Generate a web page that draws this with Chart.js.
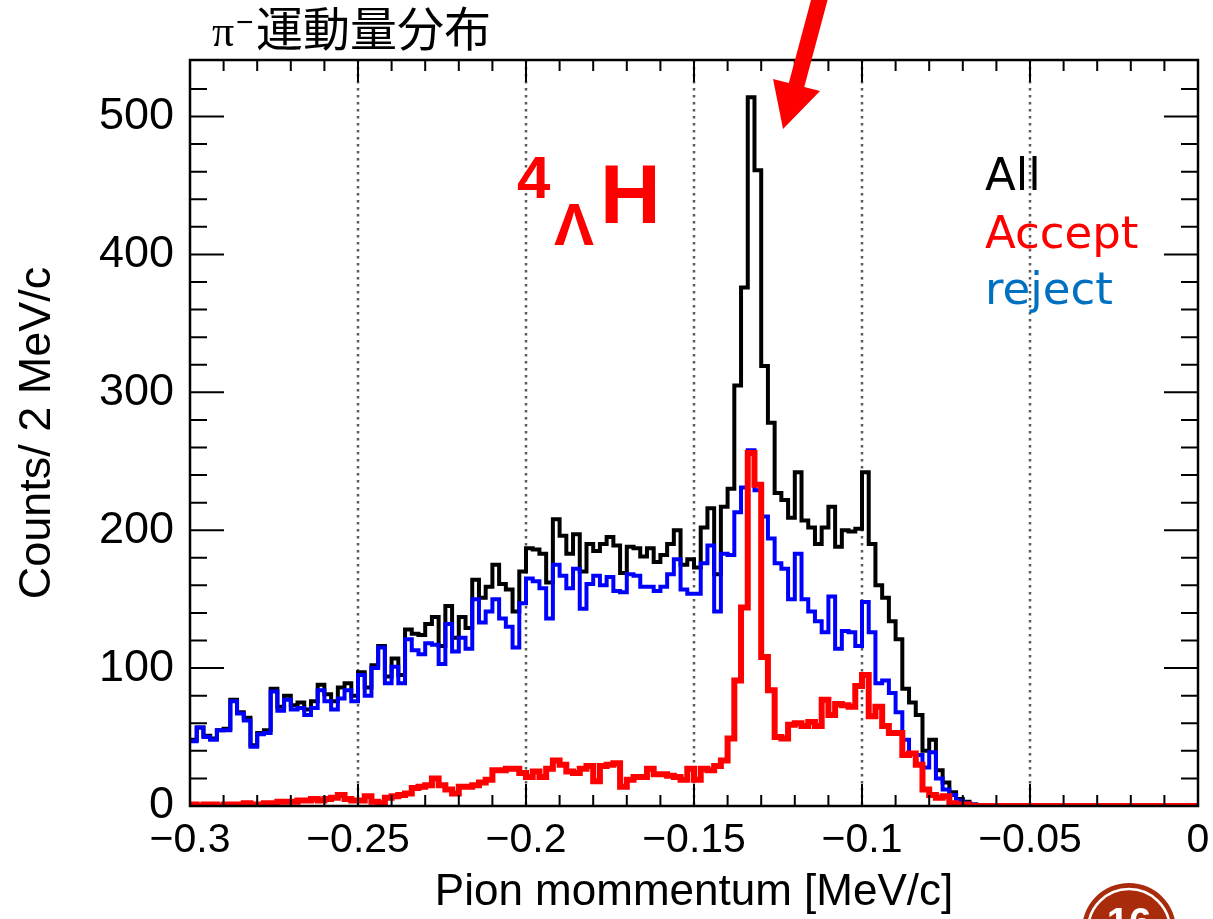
<!DOCTYPE html>
<html lang="ja">
<head>
<meta charset="utf-8">
<title>π⁻運動量分布</title>
<script src="https://cdn.jsdelivr.net/npm/chart.js@4.4.0/dist/chart.umd.min.js"></script>
<style>
  html, body { margin: 0; padding: 0; background: #fff; }
  canvas { display: block; }
</style>
</head>
<body>
<canvas id="momentumChart" width="1213" height="919"></canvas>
<script>
// Histogram bin edges (2 MeV/c bins) and counts per bin
const binEdges = [
  -0.300, -0.298, -0.296, -0.294, -0.292, -0.290, -0.288, -0.286, -0.284, -0.282,
  -0.280, -0.278, -0.276, -0.274, -0.272, -0.270, -0.268, -0.266, -0.264, -0.262,
  -0.260, -0.258, -0.256, -0.254, -0.252, -0.250, -0.248, -0.246, -0.244, -0.242,
  -0.240, -0.238, -0.236, -0.234, -0.232, -0.230, -0.228, -0.226, -0.224, -0.222,
  -0.220, -0.218, -0.216, -0.214, -0.212, -0.210, -0.208, -0.206, -0.204, -0.202,
  -0.200, -0.198, -0.196, -0.194, -0.192, -0.190, -0.188, -0.186, -0.184, -0.182,
  -0.180, -0.178, -0.176, -0.174, -0.172, -0.170, -0.168, -0.166, -0.164, -0.162,
  -0.160, -0.158, -0.156, -0.154, -0.152, -0.150, -0.148, -0.146, -0.144, -0.142,
  -0.140, -0.138, -0.136, -0.134, -0.132, -0.130, -0.128, -0.126, -0.124, -0.122,
  -0.120, -0.118, -0.116, -0.114, -0.112, -0.110, -0.108, -0.106, -0.104, -0.102,
  -0.100, -0.098, -0.096, -0.094, -0.092, -0.090, -0.088, -0.086, -0.084, -0.082,
  -0.080, -0.078, -0.076, -0.074, -0.072, -0.070, -0.068, -0.066, -0.064, -0.062,
  -0.060, -0.058, -0.056, -0.054, -0.052, -0.050, -0.048, -0.046, -0.044, -0.042,
  -0.040, -0.038, -0.036, -0.034, -0.032, -0.030, -0.028, -0.026, -0.024, -0.022,
  -0.020, -0.018, -0.016, -0.014, -0.012, -0.010, -0.008, -0.006, -0.004, -0.002,
  0.000
];

const allCounts = [
  48, 57, 51, 49, 55, 56, 77, 68, 64, 44,
  53, 55, 85, 72, 80, 73, 75, 70, 76, 88,
  81, 76, 86, 89, 80, 97, 86, 102, 116, 94,
  107, 95, 128, 125, 124, 132, 137, 116, 145, 122,
  137, 129, 164, 151, 159, 175, 161, 157, 141, 170,
  187, 186, 183, 162, 208, 196, 183, 197, 170, 190,
  185, 190, 195, 189, 169, 188, 187, 181, 187, 177,
  182, 190, 200, 175, 179, 173, 202, 216, 168, 217,
  230, 305, 376, 514, 461, 319, 278, 227, 222, 209,
  242, 207, 202, 190, 202, 217, 188, 200, 199, 201,
  242, 190, 160, 151, 134, 121, 85, 75, 66, 40,
  48, 26, 17, 10, 5, 3, 1, 0, 0, 0,
  0, 0, 0, 0, 0, 0, 0, 0, 0, 0,
  0, 0, 0, 0, 0, 0, 0, 0, 0, 0,
  0, 0, 0, 0, 0, 0, 0, 0, 0, 0
];

const acceptCounts = [
  1, 0, 1, 1, 0, 1, 1, 1, 2, 1,
  1, 2, 2, 3, 3, 3, 4, 4, 5, 4,
  5, 6, 8, 5, 4, 4, 7, 3, 2, 6,
  7, 8, 9, 13, 14, 15, 20, 15, 12, 9,
  14, 14, 15, 17, 19, 26, 26, 27, 27, 24,
  21, 25, 21, 27, 33, 30, 25, 24, 27, 29,
  18, 29, 30, 31, 14, 19, 21, 21, 27, 23,
  23, 22, 21, 19, 27, 19, 27, 26, 29, 33,
  49, 91, 144, 256, 233, 108, 84, 50, 49, 59,
  60, 58, 61, 58, 77, 66, 74, 73, 72, 87,
  95, 65, 72, 58, 53, 53, 37, 38, 30, 12,
  8, 6, 7, 2, 1, 1, 0, 0, 0, 0,
  0, 0, 0, 0, 0, 0, 0, 0, 0, 0,
  0, 0, 0, 0, 0, 0, 0, 0, 0, 0,
  0, 0, 0, 0, 0, 0, 0, 0, 0, 0
];

const rejectCounts = [
  47, 57, 50, 48, 55, 55, 76, 67, 62, 43,
  52, 53, 83, 69, 77, 70, 71, 66, 71, 84,
  76, 70, 78, 84, 76, 95, 80, 100, 115, 89,
  101, 89, 121, 113, 110, 118, 117, 103, 132, 112,
  122, 114, 150, 133, 141, 150, 136, 130, 115, 147,
  165, 163, 158, 136, 175, 167, 158, 172, 143, 161,
  167, 160, 166, 156, 155, 168, 167, 159, 159, 156,
  159, 168, 179, 157, 154, 154, 176, 189, 141, 183,
  182, 213, 231, 258, 229, 210, 194, 176, 172, 150,
  183, 150, 141, 134, 126, 152, 114, 127, 126, 116,
  148, 126, 89, 91, 82, 68, 48, 38, 37, 28,
  39, 20, 12, 8, 4, 2, 1, 0, 0, 0,
  0, 0, 0, 0, 0, 0, 0, 0, 0, 0,
  0, 0, 0, 0, 0, 0, 0, 0, 0, 0,
  0, 0, 0, 0, 0, 0, 0, 0, 0, 0
];

const xMajorTicks = [-0.3, -0.25, -0.2, -0.15, -0.1, -0.05, 0];
const xTickLabels = ["\u22120.3", "\u22120.25", "\u22120.2", "\u22120.15", "\u22120.1", "\u22120.05", "0"];
const yMajorTicks = [0, 100, 200, 300, 400, 500];
const yTickLabels = ["0", "100", "200", "300", "400", "500"];
const legendNames = ["All", "Accept", "reject"];

const ARIAL = "'Liberation Sans', Arial, sans-serif";

function toSteps(counts) {
  const pts = counts.map((c, i) => ({ x: binEdges[i], y: c }));
  pts.push({ x: binEdges[counts.length], y: counts[counts.length - 1] });
  return pts;
}

function majorIndex(list, v) {
  return list.findIndex((t) => Math.abs(t - v) < 1e-6);
}

// ROOT-like frame: dotted x grid, inward ticks on all four sides
const rootFrame = {
  id: "rootFrame",
  beforeDatasetsDraw(chart) {
    const { ctx, chartArea: a, scales } = chart;
    ctx.save();
    ctx.strokeStyle = "#5a5a5a";
    ctx.lineWidth = 2.5;
    ctx.setLineDash([2.5, 4.5]);
    xMajorTicks.forEach((v) => {
      const px = Math.round(scales.x.getPixelForValue(v));
      if (px <= a.left + 2 || px >= a.right - 2) return;
      ctx.beginPath();
      ctx.moveTo(px, a.top);
      ctx.lineTo(px, a.bottom);
      ctx.stroke();
    });
    ctx.restore();
  },
  afterDatasetsDraw(chart) {
    const { ctx, chartArea: a, scales } = chart;
    ctx.save();
    ctx.strokeStyle = "#000";
    ctx.lineWidth = 2;
    scales.x.ticks.forEach((t) => {
      const px = scales.x.getPixelForValue(t.value);
      const len = majorIndex(xMajorTicks, t.value) >= 0 ? 22 : 11;
      ctx.beginPath();
      ctx.moveTo(px, a.bottom);
      ctx.lineTo(px, a.bottom - len);
      ctx.moveTo(px, a.top);
      ctx.lineTo(px, a.top + len);
      ctx.stroke();
    });
    scales.y.ticks.forEach((t) => {
      if (t.value % 20 !== 0) return;
      const py = scales.y.getPixelForValue(t.value);
      const len = t.value % 100 === 0 ? 34 : 17;
      ctx.beginPath();
      ctx.moveTo(a.left, py);
      ctx.lineTo(a.left + len, py);
      ctx.moveTo(a.right, py);
      ctx.lineTo(a.right - len, py);
      ctx.stroke();
    });
    ctx.lineWidth = 2.5;
    ctx.strokeRect(a.left, a.top, a.right - a.left, a.bottom - a.top);
    ctx.restore();
  },
};

// title, legend words, 4ΛH label, arrow and slide badge
const slideText = {
  id: "slideText",
  afterDraw(chart) {
    const { ctx, scales } = chart;
    ctx.save();
    ctx.textBaseline = "alphabetic";
    ctx.textAlign = "left";

    ctx.fillStyle = "#000";
    ctx.font = "44px 'Liberation Serif', serif";
    ctx.fillText("π", 212, 46);
    ctx.font = "30px 'Liberation Sans', sans-serif";
    ctx.fillText("\u2212", 236, 32);
    ctx.font = "47px 'Noto Sans CJK JP', sans-serif";
    ctx.fillText("運動量分布", 256, 46);

    const legendColors = ["#000000", "#ff0000", "#0070c0"];
    const legendBase = [190, 248, 304];
    ctx.font = "45px 'DejaVu Sans', sans-serif";
    legendNames.forEach((name, i) => {
      ctx.fillStyle = legendColors[i];
      ctx.fillText(name, 985, legendBase[i]);
    });

    ctx.fillStyle = "#ff0000";
    ctx.font = "bold 60px " + ARIAL;
    ctx.fillText("4", 517, 198);
    ctx.fillText("Λ", 554, 245);
    ctx.font = "bold 84px " + ARIAL;
    ctx.fillText("H", 600, 223);

    // arrow pointing at the peak
    const tx = scales.x.getPixelForValue(-0.1235);
    const ty = scales.y.getPixelForValue(491);
    const ux = 0.2587, uy = -0.966, w = 8;
    const mx = tx + 13.5, my = ty - 44;
    ctx.beginPath();
    ctx.moveTo(tx, ty);
    ctx.lineTo(tx + 37, ty - 38);
    ctx.lineTo(mx + w * 0.966, my + w * 0.2587);
    ctx.lineTo(mx + w * 0.966 + ux * 200, my + w * 0.2587 + uy * 200);
    ctx.lineTo(mx - w * 0.966 + ux * 200, my - w * 0.2587 + uy * 200);
    ctx.lineTo(mx - w * 0.966, my - w * 0.2587);
    ctx.lineTo(tx - 10, ty - 50);
    ctx.closePath();
    ctx.fill();

    // page number badge, cut off at the bottom
    ctx.fillStyle = "#a82c0c";
    ctx.beginPath();
    ctx.arc(1129, 930, 47, 0, Math.PI * 2);
    ctx.fill();
    ctx.strokeStyle = "#ffffff";
    ctx.lineWidth = 2.5;
    ctx.beginPath();
    ctx.arc(1129, 930, 41, 0, Math.PI * 2);
    ctx.stroke();
    ctx.fillStyle = "#ffffff";
    ctx.font = "bold 40px " + ARIAL;
    ctx.textAlign = "center";
    ctx.fillText("16", 1129, 936);
    ctx.restore();
  },
};

function createChart(chartElementId) {
  const ctx = document.getElementById(chartElementId).getContext("2d");
  const lineStyle = { stepped: true, pointRadius: 0, fill: false, borderJoinStyle: "miter" };

  new Chart(ctx, {
    type: "line",
    data: {
      datasets: [
        { ...lineStyle, label: legendNames[1], data: toSteps(acceptCounts), borderColor: "#ff0000", borderWidth: 6, order: 0 },
        { ...lineStyle, label: legendNames[2], data: toSteps(rejectCounts), borderColor: "#0000ff", borderWidth: 4, order: 1 },
        { ...lineStyle, label: legendNames[0], data: toSteps(allCounts), borderColor: "#000000", borderWidth: 4, order: 2 },
      ],
    },
    options: {
      responsive: false,
      animation: false,
      events: [],
      layout: { padding: { top: 60, right: 15, left: 0, bottom: 0 } },
      plugins: {
        legend: { display: false },
        tooltip: { enabled: false },
      },
      scales: {
        x: {
          type: "linear",
          min: -0.3,
          max: 0,
          grid: { display: false },
          border: { display: false },
          ticks: {
            stepSize: 0.01,
            autoSkip: false,
            maxRotation: 0,
            padding: 2,
            color: "#000",
            font: { family: ARIAL, size: 41 },
            callback: (v) => {
              const i = majorIndex(xMajorTicks, v);
              return i >= 0 ? xTickLabels[i] : "";
            },
          },
          title: {
            display: true,
            text: "Pion mommentum [MeV/c]",
            color: "#000",
            font: { family: ARIAL, size: 44 },
            padding: { top: 0, bottom: 0 },
          },
          afterFit: (scale) => { scale.height = 113; },
        },
        y: {
          min: 0,
          max: 541,
          grid: { display: false },
          border: { display: false },
          ticks: {
            stepSize: 20,
            autoSkip: false,
            padding: 8,
            color: "#000",
            font: { family: ARIAL, size: 45 },
            callback: (v) => {
              const i = majorIndex(yMajorTicks, v);
              return i >= 0 ? yTickLabels[i] : "";
            },
          },
          title: {
            display: true,
            text: "Counts/ 2 MeV/c",
            color: "#000",
            font: { family: ARIAL, size: 45 },
            padding: { top: 11, bottom: 0 },
          },
          afterFit: (scale) => { scale.width = 190; },
        },
      },
    },
    plugins: [rootFrame, slideText],
  });
}

createChart("momentumChart");
</script>
</body>
</html>
